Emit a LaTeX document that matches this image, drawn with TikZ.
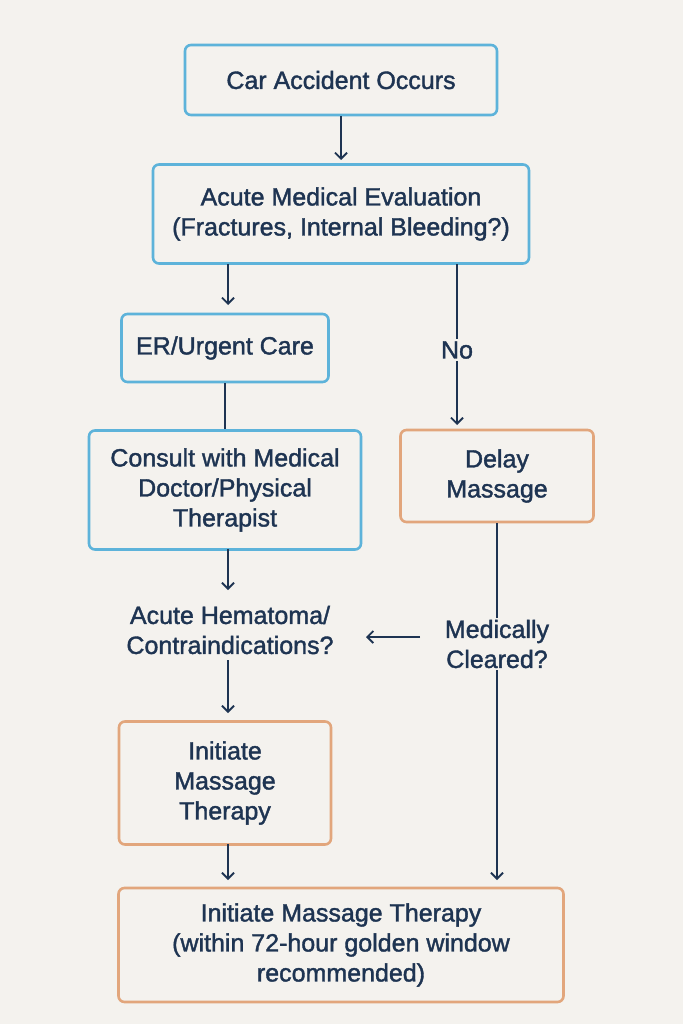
\documentclass[tikz,border=0pt]{standalone}
\usepackage{fontspec}
\setmainfont{Liberation Sans}[FakeBold=1.5]
\usetikzlibrary{arrows.meta}
\definecolor{bg}{HTML}{F4F2EE}
\definecolor{bl}{HTML}{5DB3DA}
\definecolor{or}{HTML}{E2A67C}
\definecolor{tx}{HTML}{1E3452}
\begin{document}
\begin{tikzpicture}[x=1pt,y=-1pt,
  font=\fontsize{25}{30}\selectfont, text=tx,
  box/.style={draw=#1,line width=2.6pt,rounded corners=6pt,fill=bg,align=center,inner sep=0pt},
  lbl/.style={align=center,inner sep=2pt},
  arr/.style={draw=tx,line width=1.8pt,-{Straight Barb[length=6pt,width=12pt]}},
  ln/.style={draw=tx,line width=1.8pt}]
\fill[bg] (0,0) rectangle (683,1024);
\useasboundingbox (0,0) rectangle (683,1024);
\node[box=bl,minimum width=312pt,minimum height=70pt] (a) at (341,80) {Car Accident Occurs};
\node[box=bl,minimum width=376pt,minimum height=99pt] (b) at (341,214) {Acute Medical Evaluation\\(Fractures, Internal Bleeding?)};
\node[box=bl,minimum width=207pt,minimum height=68pt] (c) at (225,348) {ER/Urgent Care};
\node[lbl] (no) at (457,350) {No};
\node[box=bl,minimum width=272pt,minimum height=119pt] (d) at (225,490) {Consult with Medical\\Doctor/Physical\\Therapist};
\node[box=or,minimum width=193pt,minimum height=92pt] (e) at (497,476) {Delay\\Massage};
\node[lbl] (h) at (230,630) {Acute Hematoma/\\Contraindications?};
\node[lbl] (m) at (497,644) {Medically\\Cleared?};
\node[box=or,minimum width=212pt,minimum height=123pt] (i) at (225,783) {Initiate\\Massage\\Therapy};
\node[box=or,minimum width=445pt,minimum height=114pt] (f) at (341,945) {Initiate Massage Therapy\\(within 72-hour golden window\\recommended)};
\coordinate (hx) at (366,637);
\coordinate (mx) at (420,637);
\draw[arr] (a.south) -- (341,160);
\draw[arr] (228,264) -- (228,305);
\draw[ln] (457,264) -- (no.north);
\draw[arr] (no.south) -- (457,425);
\draw[ln] (c.south) -- (d.north);
\draw[arr] (228,549) -- (228,590);
\draw[ln] (e.south) -- (m.north);
\draw[arr] (m.south) -- (497,880);
\draw[arr] (mx) -- (hx);
\draw[arr] (228,660) -- (228,713);
\draw[arr] (228,844) -- (228,880);
\end{tikzpicture}
\end{document}
